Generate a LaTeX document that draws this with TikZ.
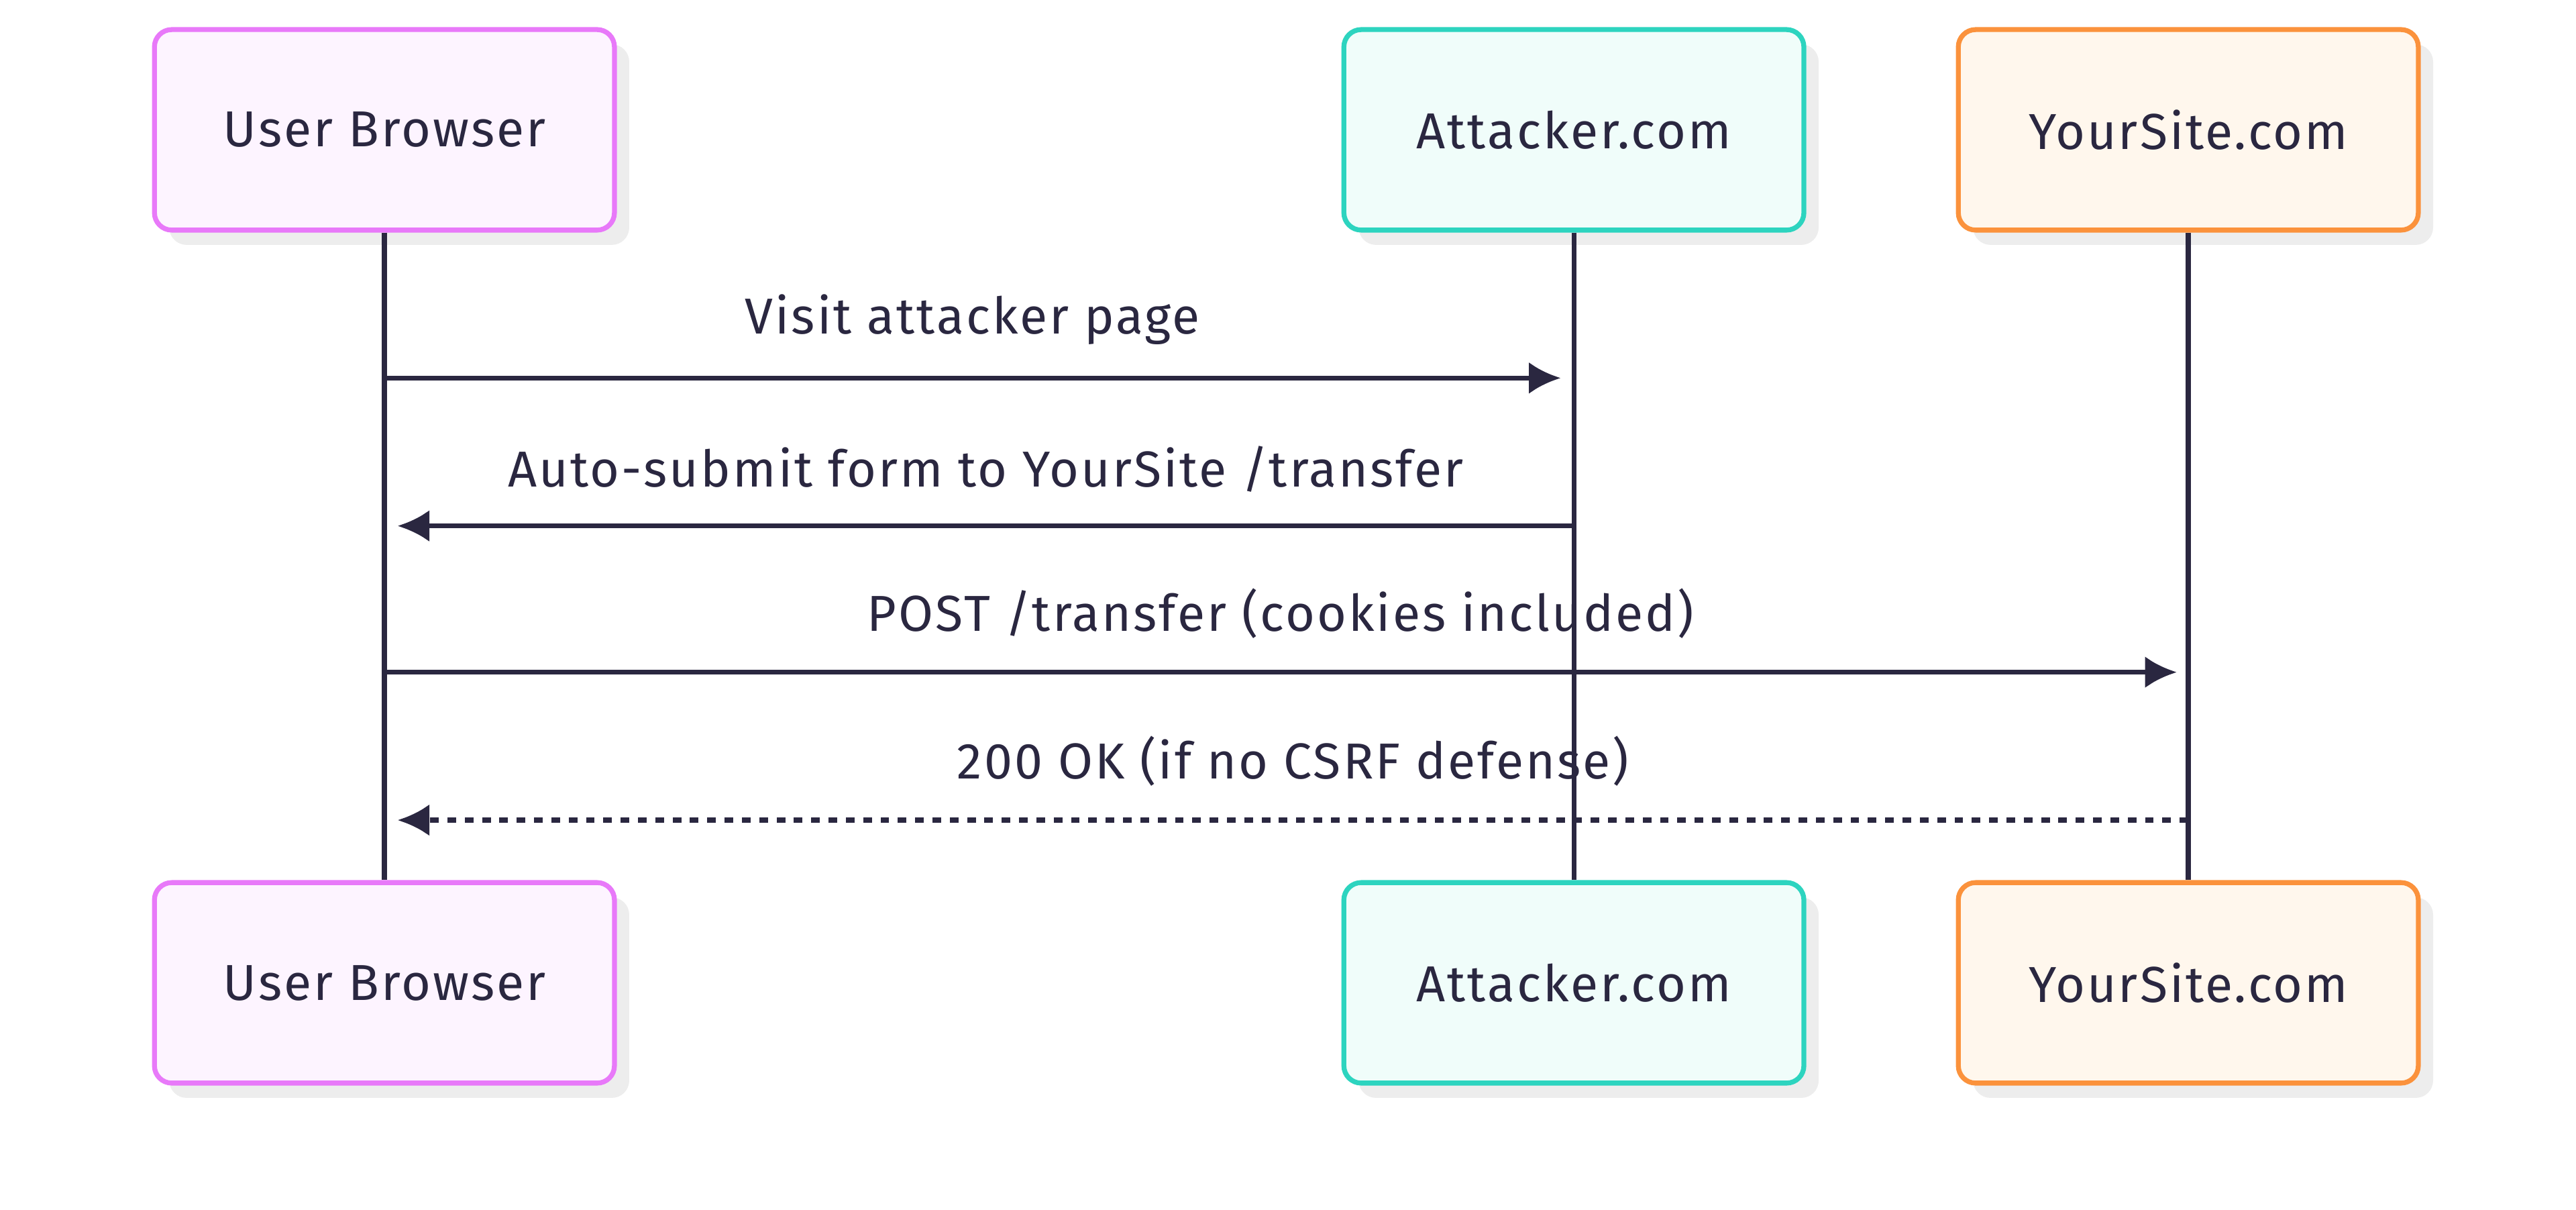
\documentclass[tikz,border=0pt]{standalone}
\usepackage{fontspec}
\setmainfont{Fira Sans}[LetterSpace=4]
\usetikzlibrary{arrows.meta,positioning}
\definecolor{ink}{HTML}{2A2740}
\definecolor{pinkline}{HTML}{E879F9}
\definecolor{pinkfill}{HTML}{FDF4FF}
\definecolor{tealline}{HTML}{2DD4BF}
\definecolor{tealfill}{HTML}{F0FDFA}
\definecolor{orangeline}{HTML}{FB923C}
\definecolor{orangefill}{HTML}{FFF7ED}
\begin{document}
\begin{tikzpicture}[
        every node/.style={font=\fontsize{17.5}{21}\selectfont, text=ink},
        actor/.style={draw, line width=1.7pt, rounded corners=6pt, minimum width=5.6cm, minimum height=2.44cm},
        shade/.style={fill=black!7, rounded corners=6pt, minimum width=5.6cm, minimum height=2.44cm, draw=none},
        msg/.style={line width=1.7pt, draw=ink, -{Latex[length=11pt,width=11pt]}},
        msglabel/.style={above=0.38cm, inner sep=0pt}
    ]
    \useasboundingbox (0,0) rectangle (31.36,-14.72);

    % Nodes
    \foreach \nm/\x/\y in {ubt/4.68/-1.58, att/19.16/-1.58, yst/26.64/-1.58,
                           ubb/4.68/-11.96, atb/19.16/-11.96, ysb/26.64/-11.96}
        \node[shade] at (\x+0.18,\y-0.18) {};
    \node[actor, draw=pinkline, fill=pinkfill] (ubt) at (4.68,-1.58) {User Browser};
    \node[actor, draw=tealline, fill=tealfill] (att) at (19.16,-1.58) {Attacker.com};
    \node[actor, draw=orangeline, fill=orangefill] (yst) at (26.64,-1.58) {YourSite.com};
    \node[actor, draw=pinkline, fill=pinkfill] (ubb) at (4.68,-11.96) {User Browser};
    \node[actor, draw=tealline, fill=tealfill] (atb) at (19.16,-11.96) {Attacker.com};
    \node[actor, draw=orangeline, fill=orangefill] (ysb) at (26.64,-11.96) {YourSite.com};

    % Lifelines
    \draw[line width=1.7pt, ink] (ubt) -- (ubb);
    \draw[line width=1.7pt, ink] (att) -- (atb);
    \draw[line width=1.7pt, ink] (yst) -- (ysb);

    % Edges
    \coordinate (m1a) at (4.68,-4.6);  \coordinate (m1b) at (19.0,-4.6);
    \coordinate (m2a) at (19.16,-6.4); \coordinate (m2b) at (4.84,-6.4);
    \coordinate (m3a) at (4.68,-8.18); \coordinate (m3b) at (26.5,-8.18);
    \coordinate (m4a) at (26.64,-9.98); \coordinate (m4b) at (4.84,-9.98);
    \draw[msg] (m1a) -- node[msglabel] {Visit attacker page} (m1b);
    \draw[msg] (m2a) -- node[msglabel] {Auto-submit form to YourSite /transfer} (m2b);
    \draw[msg] (m3a) -- node[msglabel] {POST /transfer (cookies included)} (m3b);
    \draw[msg, dash pattern=on 3pt off 3pt] (m4a) -- node[msglabel] {200 OK (if no CSRF defense)} (m4b);
\end{tikzpicture}
\end{document}
